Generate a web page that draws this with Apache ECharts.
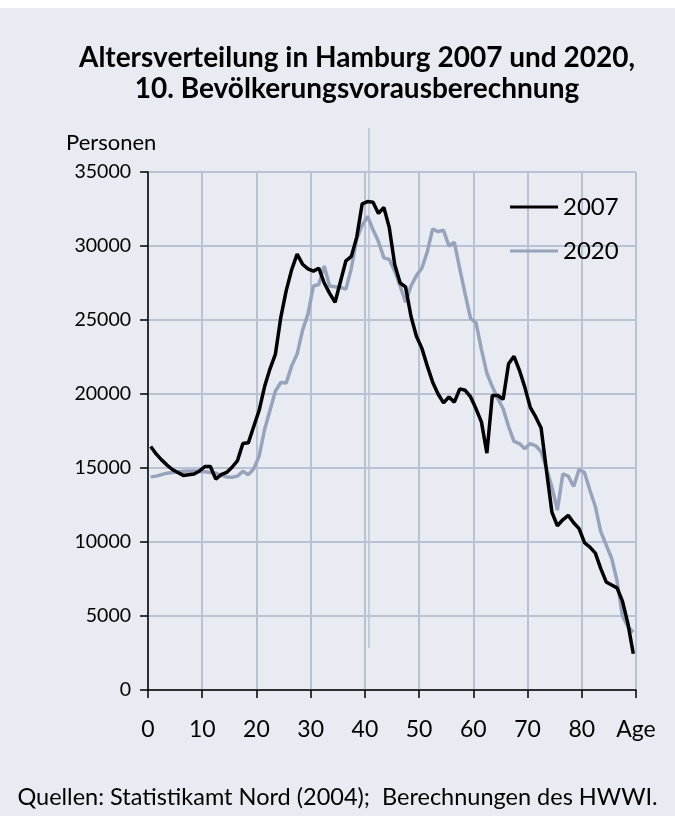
<!DOCTYPE html>
<html><head><meta charset="utf-8">
<script src="https://cdn.jsdelivr.net/npm/echarts@6/dist/echarts.min.js"></script>
<style>
html,body{margin:0;padding:0;background:#ffffff;}
#c{position:absolute;left:0;top:8px;width:675px;height:808px;background:#e8ebf1;}
</style></head><body>
<div id="c"></div>
<script>
// one-year age bands 0..89
const ages = Array.from({length: 90}, (_, i) => i);
const pop2007 = [16450,15950,15550,15200,14900,14700,14500,14550,14600,14800,
15100,15100,14250,14550,14700,15050,15500,16650,16700,17800,
18900,20500,21700,22700,25200,27000,28400,29450,28770,28450,
28300,28500,27500,26800,26200,27600,29000,29300,30600,32850,
33000,32950,32200,32600,31240,28750,27500,27240,25250,23900,
23100,21900,20800,20000,19400,19800,19450,20350,20250,19800,
19000,18100,16000,19900,19900,19650,22050,22550,21600,20450,
19100,18450,17700,14800,12000,11100,11500,11800,11300,10900,
9950,9650,9250,8200,7300,7100,6900,6000,4500,2450];
const pop2020 = [14400,14450,14550,14650,14700,14750,14780,14800,14800,14780,
14750,14700,14650,14500,14400,14380,14450,14780,14550,14950,
15800,17600,18900,20200,20780,20750,21900,22700,24300,25400,
27300,27400,28650,27300,27240,27200,27090,28500,30500,31400,
32000,31100,30300,29200,29100,28300,27300,26200,27300,28000,
28500,29600,31150,30970,31060,30000,30250,28450,26750,25100,
24800,23000,21400,20500,19700,19000,17800,16800,16650,16300,
16650,16500,16100,14950,13700,12150,14600,14450,13750,14900,
14700,13500,12400,10700,9800,8900,7400,5000,4300,3900];
const xTicks = [0,10,20,30,40,50,60,70,80,'Age'];
const seriesNames = ['2007','2020'];

const FONT = 'Lato';
// each value is drawn at the middle of its one-year band
const toPts = arr => arr.map((v, i) => [ages[i] + 0.5, v]);

const chart = echarts.init(document.getElementById('c'), null, {renderer: 'canvas'});
chart.setOption({
  animation: false,
  backgroundColor: '#e8ebf1',
  textStyle: {fontFamily: FONT, color: '#000'},
  title: [
    {text: 'Altersverteilung in Hamburg 2007 und 2020,\n10. Bevölkerungsvorausberechnung',
     left: 352, top: 29, textAlign: 'center',
     textStyle: {fontFamily: FONT, fontWeight: 'bold', fontSize: 28, lineHeight: 31, color: '#000'}},
    {text: 'Personen', left: 61, top: 119,
     textStyle: {fontFamily: FONT, fontWeight: 'normal', fontSize: 22, color: '#000'}},
    {text: 'Quellen: Statistikamt Nord (2004);  Berechnungen des HWWI.', left: 'center', top: 772,
     textStyle: {fontFamily: FONT, fontWeight: 'normal', fontSize: 23.5, color: '#000'}}
  ],
  legend: {
    data: seriesNames, orient: 'vertical', left: 505, top: 182, itemGap: 20,
    itemWidth: 48, itemHeight: 24, icon: 'path://M0,11 L48,11 L48,14 L0,14 Z',
    textStyle: {fontFamily: FONT, fontSize: 24, color: '#000'}
  },
  grid: {left: 148, right: 39, top: 164, bottom: 126},
  xAxis: {
    type: 'value', min: 0, max: 90, interval: 10,
    axisLine: {show: true, lineStyle: {color: '#000', width: 1.5}},
    axisTick: {show: true, length: 8, lineStyle: {color: '#000', width: 1.5}},
    axisLabel: {fontFamily: FONT, fontSize: 23, color: '#000', margin: 28,
      formatter: v => String(xTicks[v / 10])},
    splitLine: {show: true, lineStyle: {color: '#b9c2d3', width: 2}}
  },
  yAxis: {
    type: 'value', min: 0, max: 35000, interval: 5000,
    axisLine: {show: true, lineStyle: {color: '#000', width: 1.5}},
    axisTick: {show: true, length: 8, lineStyle: {color: '#000', width: 1.5}},
    axisLabel: {fontFamily: FONT, fontSize: 19.5, color: '#000', margin: 17,
      formatter: v => String(v)},
    splitLine: {show: true, lineStyle: {color: '#b9c2d3', width: 2}}
  },
  graphic: [{
    type: 'line', z: 1, silent: true,
    shape: {x1: 369, y1: 120, x2: 369, y2: 640},
    style: {stroke: '#b9c2d3', lineWidth: 1.5}
  }],
  series: [
    {name: seriesNames[0], type: 'line', data: toPts(pop2007), showSymbol: false, z: 4,
     lineStyle: {color: '#000000', width: 3.5}, itemStyle: {color: '#000000'}},
    {name: seriesNames[1], type: 'line', data: toPts(pop2020), showSymbol: false, z: 3,
     lineStyle: {color: '#97a3bc', width: 3.5}, itemStyle: {color: '#97a3bc'}}
  ]
});
</script>
</body></html>
